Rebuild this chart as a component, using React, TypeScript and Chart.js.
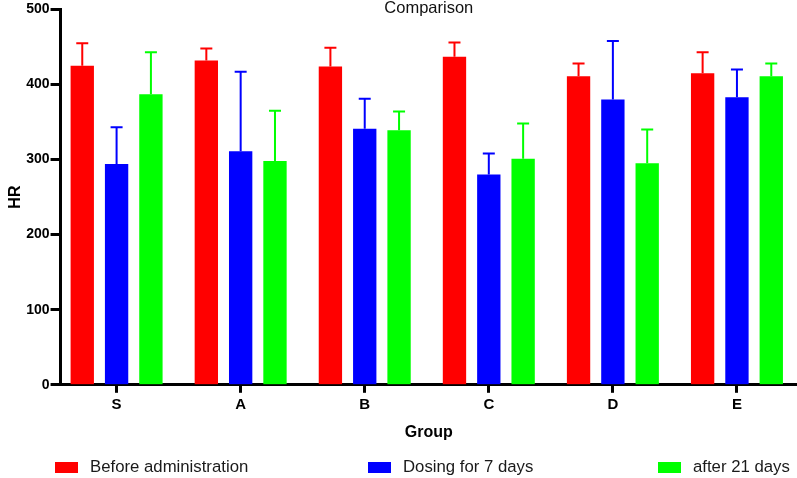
import React, { useEffect, useRef } from "react";
import { Chart, registerables } from "chart.js";

Chart.register(...registerables);

const groups = ["S", "A", "B", "C", "D", "E"];
const seriesNames = ["Before administration", "Dosing for 7 days", "after 21 days"];
const seriesColors = ["#FF0000", "#0000FF", "#00FF00"];
const beforeValues = [425, 432, 424, 437, 411, 415];
const beforeErrors = [30, 16, 25, 19, 17, 28];
const dosing7Values = [294, 311, 341, 280, 380, 383];
const dosing7Errors = [49, 106, 40, 28, 78, 37];
const after21Values = [387, 298, 339, 301, 295, 411];
const after21Errors = [56, 67, 25, 47, 45, 17];
const yTicks = [0, 100, 200, 300, 400, 500];
const chartTitle = "Comparison";
const xTitle = "Group";
const yTitle = "HR";

const FONT = "'Liberation Sans', Arial, sans-serif";

const errorBarPlugin = {
  id: "errorBars",
  afterDatasetsDraw(chart: any) {
    const ctx = chart.ctx;
    const yScale = chart.scales.y;
    chart.data.datasets.forEach((ds: any, i: number) => {
      const meta = chart.getDatasetMeta(i);
      meta.data.forEach((bar: any, j: number) => {
        const v = ds.data[j].y;
        const e = ds.errors[j];
        const yTop = yScale.getPixelForValue(v + e);
        ctx.save();
        ctx.strokeStyle = ds.backgroundColor;
        ctx.lineWidth = 2;
        ctx.beginPath();
        ctx.moveTo(bar.x, bar.y);
        ctx.lineTo(bar.x, yTop);
        ctx.moveTo(bar.x - 6, yTop);
        ctx.lineTo(bar.x + 6, yTop);
        ctx.stroke();
        ctx.restore();
      });
    });
  },
};

const titlePlugin = {
  id: "insideTitle",
  afterDraw(chart: any) {
    const ctx = chart.ctx;
    const area = chart.chartArea;
    ctx.save();
    ctx.font = `16.5px ${FONT}`;
    ctx.fillStyle = "#111";
    ctx.textAlign = "center";
    ctx.textBaseline = "middle";
    ctx.fillText(chartTitle, (area.left + area.right) / 2, 8);
    ctx.restore();
  },
};

export default function App() {
  const ref = useRef<HTMLCanvasElement | null>(null);
  useEffect(() => {
    document.body.style.margin = "0";
    const values = [beforeValues, dosing7Values, after21Values];
    const errors = [beforeErrors, dosing7Errors, after21Errors];
    const chart = new Chart(ref.current!, {
      type: "bar",
      data: {
        datasets: seriesNames.map((name, i) => ({
          label: name,
          data: values[i].map((v, j) => ({ x: j, y: v })),
          errors: errors[i],
          backgroundColor: seriesColors[i],
          borderWidth: 0,
          categoryPercentage: 0.83,
          barPercentage: 0.68,
        })) as any,
      },
      options: {
        animation: false,
        responsive: false,
        maintainAspectRatio: false,
        layout: { padding: { top: 7, left: 6, right: 0, bottom: 35 } },
        plugins: {
          legend: { display: false },
          title: { display: false },
          tooltip: { enabled: false },
        },
        scales: {
          x: {
            type: "linear",
            offset: false,
            min: -0.4516,
            max: 5.484,
            afterBuildTicks(scale: any) {
              scale.ticks = groups.map((_, i) => ({ value: i }));
            },
            grid: {
              display: true,
              offset: false,
              drawOnChartArea: false,
              drawTicks: true,
              tickLength: 8,
              tickWidth: 3,
              color: "#000",
            },
            border: { display: true, color: "#000", width: 3 },
            ticks: {
              color: "#000",
              padding: 3,
              autoSkip: false,
              maxRotation: 0,
              callback: (v: any) => groups[v] ?? "",
              font: { family: FONT, size: 15, weight: "bold" },
            },
            title: {
              display: true,
              text: xTitle,
              color: "#000",
              padding: { top: 6, bottom: 1 },
              font: { family: FONT, size: 16, weight: "bold" },
            },
          },
          y: {
            min: 0,
            max: 500,
            afterBuildTicks(scale: any) {
              scale.ticks = yTicks.map((v) => ({ value: v }));
            },
            grid: {
              display: true,
              drawOnChartArea: false,
              drawTicks: true,
              tickLength: 10,
              tickWidth: 3,
              color: "#000",
            },
            border: { display: true, color: "#000", width: 3 },
            ticks: {
              color: "#000",
              padding: 1,
              font: { family: FONT, size: 14, weight: "bold" },
            },
            title: {
              display: true,
              text: yTitle,
              color: "#000",
              padding: { top: 0, bottom: 0 },
              font: { family: FONT, size: 16, weight: "bold" },
            },
          },
        },
      } as any,
      plugins: [errorBarPlugin, titlePlugin],
    });
    return () => chart.destroy();
  }, []);

  const legendPos = [55, 368, 658];
  return (
    <div style={{ position: "fixed", left: 0, top: 0, width: 797, height: 478, background: "#fff", overflow: "hidden" }}>
      <canvas ref={ref} width={797} height={478} style={{ display: "block" }} />
      {seriesNames.map((name, i) => (
        <div
          key={name}
          style={{
            position: "absolute",
            left: legendPos[i],
            top: 457,
            display: "flex",
            alignItems: "center",
            fontFamily: FONT,
            fontSize: 16.75,
            lineHeight: "20px",
            color: "#1a1a1a",
            whiteSpace: "nowrap",
          }}
        >
          <span style={{ display: "inline-block", width: 23, height: 11, background: seriesColors[i], marginRight: 12 }} />
          <span>{name}</span>
        </div>
      ))}
    </div>
  );
}
